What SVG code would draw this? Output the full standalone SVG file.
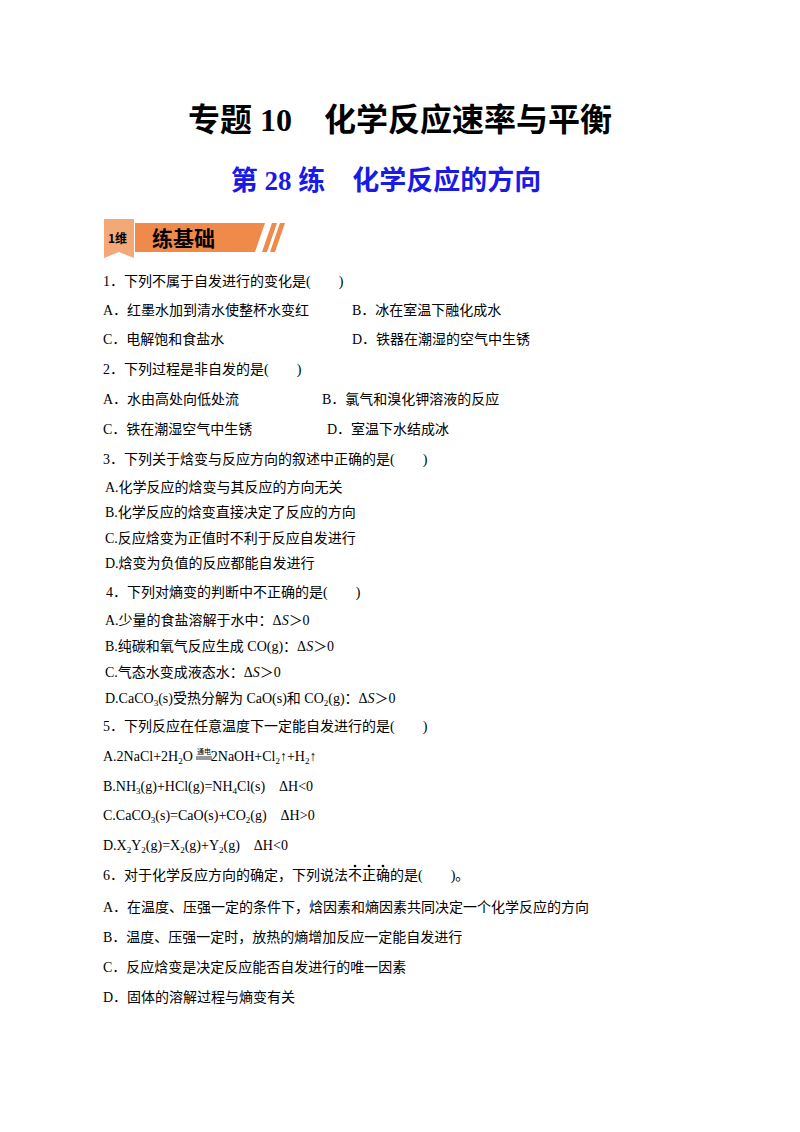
<svg xmlns="http://www.w3.org/2000/svg" width="800" height="1132" viewBox="0 0 800 1132">
<style>
text{font-family:"Liberation Serif","Noto Sans CJK SC",serif;font-size:14px;fill:#000}
.t{font-size:32px;font-weight:bold}
.s{font-size:27px;font-weight:bold;fill:#1a1ae6}
.b{font-family:"Noto Sans CJK SC",sans-serif;font-weight:bold}
.sub{font-size:9px}
</style>
<rect width="800" height="1132" fill="#fff"/>
<text class="t" x="400" y="131" text-anchor="middle">专题 10　化学反应速率与平衡</text>
<text class="s" x="386" y="190" text-anchor="middle">第 28 练　化学反应的方向</text>
<g id="banner">
<path d="M135 223 H265 L255 252 H135 Z" fill="#f08a4b"/>
<path d="M104 219 H134 V258 L119 252 L104 258 Z" fill="#f4a878"/>
<path d="M262 252 L272 223 H277 L267 252 Z M270 252 L280 223 H285 L275 252 Z" fill="#f08a4b"/>
<text class="b" x="108" y="243" style="font-size:12px">1维</text>
<text class="b" x="152" y="246" style="font-size:21px">练基础</text>
</g>
<text x="103" y="286">1．下列不属于自发进行的变化是(　　)</text>
<text x="103" y="315">A．红墨水加到清水使整杯水变红</text>
<text x="352" y="315">B．冰在室温下融化成水</text>
<text x="103" y="344">C．电解饱和食盐水</text>
<text x="352" y="344">D．铁器在潮湿的空气中生锈</text>
<text x="103" y="374">2．下列过程是非自发的是(　　)</text>
<text x="103" y="404">A．水由高处向低处流</text>
<text x="322" y="404">B．氯气和溴化钾溶液的反应</text>
<text x="103" y="434">C．铁在潮湿空气中生锈</text>
<text x="327" y="434">D．室温下水结成冰</text>
<text x="103" y="464">3．下列关于焓变与反应方向的叙述中正确的是(　　)</text>
<text x="105" y="492">A.化学反应的焓变与其反应的方向无关</text>
<text x="105" y="517">B.化学反应的焓变直接决定了反应的方向</text>
<text x="105" y="543">C.反应焓变为正值时不利于反应自发进行</text>
<text x="105" y="568">D.焓变为负值的反应都能自发进行</text>
<text x="106" y="597">4．下列对熵变的判断中不正确的是(　　)</text>
<text x="105" y="625">A.少量的食盐溶解于水中：Δ<tspan font-style="italic">S</tspan>＞0</text>
<text x="105" y="651">B.纯碳和氧气反应生成 CO(g)：Δ<tspan font-style="italic">S</tspan>＞0</text>
<text x="105" y="677">C.气态水变成液态水：Δ<tspan font-style="italic">S</tspan>＞0</text>
<text x="105" y="703">D.CaCO<tspan class="sub" dy="3">3</tspan><tspan dy="-3">(s)受热分解为 CaO(s)和 CO</tspan><tspan class="sub" dy="3">2</tspan><tspan dy="-3">(g)：Δ</tspan><tspan font-style="italic">S</tspan>＞0</text>
<text x="103" y="731">5．下列反应在任意温度下一定能自发进行的是(　　)</text>
<text x="103" y="761">A.2NaCl+2H<tspan class="sub" dy="3">2</tspan><tspan dy="-3">O</tspan><tspan dx="18">2NaOH+Cl</tspan><tspan class="sub" dy="3">2</tspan><tspan dy="-3">↑+H</tspan><tspan class="sub" dy="3">2</tspan><tspan dy="-3">↑</tspan></text>
<text x="204" y="754" style="font-size:7px" text-anchor="middle">通电</text>
<line x1="196" y1="757" x2="212" y2="757" stroke="#000" stroke-width="0.8"/>
<line x1="196" y1="759" x2="212" y2="759" stroke="#000" stroke-width="0.8"/>
<text x="103" y="791">B.NH<tspan class="sub" dy="3">3</tspan><tspan dy="-3">(g)+HCl(g)=NH</tspan><tspan class="sub" dy="3">4</tspan><tspan dy="-3">Cl(s)　ΔH&lt;0</tspan></text>
<text x="103" y="820">C.CaCO<tspan class="sub" dy="3">3</tspan><tspan dy="-3">(s)=CaO(s)+CO</tspan><tspan class="sub" dy="3">2</tspan><tspan dy="-3">(g)　ΔH&gt;0</tspan></text>
<text x="103" y="850">D.X<tspan class="sub" dy="3">2</tspan><tspan dy="-3">Y</tspan><tspan class="sub" dy="3">2</tspan><tspan dy="-3">(g)=X</tspan><tspan class="sub" dy="3">2</tspan><tspan dy="-3">(g)+Y</tspan><tspan class="sub" dy="3">2</tspan><tspan dy="-3">(g)　ΔH&lt;0</tspan></text>
<text x="103" y="880">6．对于化学反应方向的确定，下列说法不正确的是(　　)。</text>
<circle cx="355" cy="866" r="1.3"/><circle cx="369" cy="866" r="1.3"/><circle cx="383" cy="866" r="1.3"/>
<text x="103" y="912">A．在温度、压强一定的条件下，焓因素和熵因素共同决定一个化学反应的方向</text>
<text x="103" y="942">B．温度、压强一定时，放热的熵增加反应一定能自发进行</text>
<text x="103" y="972">C．反应焓变是决定反应能否自发进行的唯一因素</text>
<text x="103" y="1002">D．固体的溶解过程与熵变有关</text>
</svg>
